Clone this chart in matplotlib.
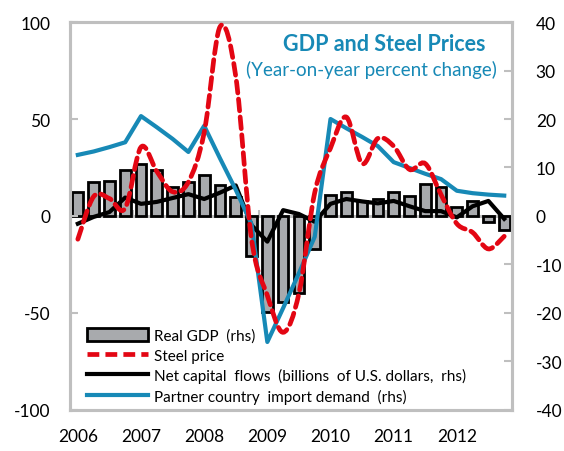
import numpy as np
import matplotlib
matplotlib.use("Agg")
import matplotlib.pyplot as plt
from matplotlib.path import Path
from matplotlib.patches import PathPatch, Patch
from matplotlib.lines import Line2D

plt.rcParams['font.family'] = ['Lato', 'DejaVu Sans']
plt.rcParams['axes.unicode_minus'] = False

years = ['2006', '2007', '2008', '2009', '2010', '2011', '2012']
quarters = [f"{y}Q{q}" for y in years for q in range(1, 5)]

gdp = [5.0, 7.0, 7.2, 9.5, 10.7, 9.5, 6.0, 7.0, 8.5, 6.4, 4.0, -8.2,
       -19.8, -17.7, -15.9, -6.8, 4.3, 5.0, 3.1, 3.5, 5.0, 4.2, 6.6, 6.0,
       1.8, 3.0, -1.3, -2.8]
steel = [-12, 10, 9, 4, 35.5, 23, 12.5, 17.5, 43, 97.5, 72, -12,
         -41, -60, -40, 12, 35, 51, 27, 40, 36, 24, 27, 11,
         -4, -8.5, -17, -10.5]
capital = [-1.6, -0.2, 0.8, 3.8, 2.5, 2.9, 3.7, 4.5, 3.5, 4.8, 6.3, -1.9,
           -5.3, 1.2, 0.4, -1.2, 2.5, 3.5, 3.0, 2.6, 3.1, 2.0, 1.0, 1.0,
           -0.3, 2.0, 3.1, -0.6]
imports = [12.6, 13.3, 14.2, 15.2, 20.6, 18.3, 15.9, 13.2, 18.6, 11.9, 5.4, -1.7,
           -26.0, -19.0, -11.8, -4.3, 20.0, 18.1, 16.3, 14.4, 11.1, 9.9, 8.7, 7.6,
           5.2, 4.7, 4.4, 4.2]

BLUE = '#1789B6'
RED = '#E30613'
GRAY = '#BFBFBF'
BARC = '#A8AAAD'

fig = plt.figure(figsize=(5.64, 4.52), dpi=100)
ax = fig.add_axes([0.124, 0.091, 0.784, 0.858])   # lhs (steel)
ax2 = ax.twinx()                                    # rhs

x = np.arange(len(quarters))

# rhs series
ax2.bar(x, gdp, width=0.68, color=BARC, edgecolor='black', linewidth=2.0, zorder=2)
ax2.plot(x, capital, color='black', lw=3.0, zorder=3)
ax2.plot(x, imports, color=BLUE, lw=3.0, zorder=4)
ax2.axhline(0, color=GRAY, lw=2.2, zorder=1)
ax2.set_ylim(-40, 40)
ax2.set_yticks(np.arange(-40, 41, 10))

# year boundary ticks on the zero line
bounds = np.arange(4, len(quarters), 4) - 0.5
ax2.vlines(bounds, 0, 1.3, color=GRAY, lw=1.5, zorder=1)

# lhs steel price, smoothed (Catmull-Rom -> cubic Bezier)
pts = np.column_stack([x, steel]).astype(float)
verts = [tuple(pts[0])]
codes = [Path.MOVETO]
n = len(pts)
for i in range(n - 1):
    p0 = pts[max(i - 1, 0)]
    p1 = pts[i]
    p2 = pts[i + 1]
    p3 = pts[min(i + 2, n - 1)]
    c1 = p1 + (p2 - p0) / 6.0
    c2 = p2 - (p3 - p1) / 6.0
    verts += [tuple(c1), tuple(c2), tuple(p2)]
    codes += [Path.CURVE4] * 3
path = Path(verts, codes)
ax.add_patch(PathPatch(path, fill=False, edgecolor=RED, lw=3.4,
                       linestyle=(0, (2.5, 1.3)), capstyle='round', zorder=5))
ax.set_ylim(-100, 100)
ax.set_yticks(np.arange(-100, 101, 50))
ax.set_xlim(-0.5, len(quarters) - 0.5)
ax.set_xticks(np.arange(0, len(quarters), 4))
ax.set_xticklabels(years)

ax.set_zorder(ax2.get_zorder() + 1)
ax.patch.set_visible(False)

for a in (ax, ax2):
    for s in a.spines.values():
        s.set_color(GRAY)
        s.set_linewidth(2.2)
ax.tick_params(axis='y', direction='in', length=6, width=1.5, color=GRAY,
               labelsize=12.5, pad=14)
ax.tick_params(axis='x', length=0, labelsize=12.5, pad=13)
ax2.tick_params(axis='y', direction='in', length=6, width=1.5, color=GRAY,
                labelsize=12.5, pad=17)

ax.text(0.71, 0.944, 'GDP and Steel Prices', transform=ax.transAxes,
        ha='center', va='center', color=BLUE, fontsize=15.5, fontweight='bold')
ax.text(0.681, 0.879, '(Year-on-year percent change)', transform=ax.transAxes,
        ha='center', va='center', color=BLUE, fontsize=13.5)

handles = [
    Patch(facecolor=BARC, edgecolor='black', linewidth=2.0),
    Line2D([], [], color=RED, lw=3.4, linestyle=(0, (2.5, 1.3))),
    Line2D([], [], color='black', lw=3.0),
    Line2D([], [], color=BLUE, lw=3.0),
]
labels = ['Real GDP  (rhs)', 'Steel price',
          'Net capital  flows  (billions  of U.S. dollars,  rhs)',
          'Partner country  import demand  (rhs)']
leg = ax.legend(handles, labels, loc='lower left', bbox_to_anchor=(0.015, -0.012),
                frameon=False, fontsize=11, handlelength=4.0, handleheight=0.9,
                handletextpad=0.4, labelspacing=0.36, borderaxespad=0.3)
leg.set_zorder(10)

fig.savefig('out.png', dpi=100)
